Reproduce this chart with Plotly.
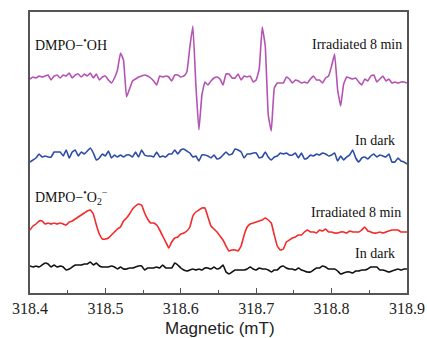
import numpy as np
import plotly.graph_objects as go

# Magnetic field grid (mT), uniform spectrometer sampling
field_start, field_stop, field_step = 318.4, 318.9, 0.004
field = np.round(np.arange(field_start, field_stop + field_step / 2, field_step), 4)

# Intensities (a.u., stacked with offsets as in the figure)
oh_irradiated = [214, 216, 215, 217, 216, 217, 218, 213, 217, 218, 215, 218, 217, 220, 215, 218,
                 219, 216, 219, 217, 220, 215, 219, 213, 216, 217, 213, 210, 215, 223, 240, 233,
                 196, 204, 212, 214, 216, 217, 218, 217, 215, 212, 208, 217, 216, 217, 216, 212,
                 218, 218, 216, 217, 221, 246, 267, 208, 163, 198, 211, 208, 212, 215, 216, 214,
                 208, 219, 219, 215, 215, 219, 213, 217, 216, 217, 211, 213, 224, 266, 247, 178,
                 162, 205, 210, 210, 210, 216, 214, 210, 213, 212, 210, 211, 210, 214, 217, 213,
                 213, 210, 215, 217, 227, 239, 203, 187, 209, 216, 215, 214, 215, 211, 208, 214,
                 212, 217, 218, 211, 214, 217, 212, 214, 210, 211, 210, 211, 211, 210]

oh_dark = [131, 133, 135, 139, 136, 137, 136, 136, 141, 141, 141, 137, 143, 135, 141, 143,
           137, 141, 139, 142, 145, 140, 133, 135, 139, 137, 142, 135, 138, 136, 138, 136,
           138, 138, 136, 141, 136, 143, 138, 137, 137, 136, 141, 136, 137, 136, 139, 139,
           143, 139, 143, 144, 142, 140, 136, 137, 132, 138, 138, 137, 135, 138, 134, 135,
           138, 141, 138, 139, 144, 143, 141, 135, 139, 139, 140, 140, 135, 136, 141, 136,
           133, 136, 137, 140, 139, 140, 138, 138, 140, 135, 140, 134, 135, 138, 137, 139,
           138, 140, 139, 137, 138, 140, 132, 137, 133, 136, 138, 143, 135, 131, 135, 136,
           134, 137, 139, 136, 138, 137, 136, 139, 131, 131, 135, 132, 131, 129]

o2_irradiated = [63, 67, 69, 72, 72, 69, 70, 69, 70, 69, 70, 69, 68, 71, 72, 74,
                 76, 78, 80, 82, 83, 79, 68, 59, 54, 54, 55, 58, 61, 64, 66, 72,
                 75, 79, 84, 87, 89, 88, 80, 74, 70, 70, 68, 63, 57, 51, 45, 51,
                 55, 56, 59, 60, 62, 66, 77, 81, 83, 85, 85, 76, 67, 64, 61, 57,
                 53, 47, 42, 43, 43, 42, 47, 58, 66, 69, 70, 71, 72, 73, 75, 73,
                 70, 58, 47, 43, 44, 51, 53, 55, 56, 58, 58, 61, 63, 61, 61, 60,
                 63, 62, 64, 61, 61, 60, 60, 61, 61, 60, 62, 61, 61, 61, 63, 66,
                 62, 61, 60, 60, 61, 60, 61, 62, 63, 63, 63, 61, 61, 61]

o2_dark = [27, 26, 27, 26, 28, 30, 29, 26, 28, 26, 27, 26, 23, 24, 26, 28,
           28, 28, 29, 29, 31, 28, 30, 27, 26, 26, 26, 27, 26, 24, 26, 24,
           24, 25, 25, 26, 27, 27, 23, 25, 25, 25, 26, 25, 28, 25, 25, 25,
           30, 28, 25, 23, 22, 23, 24, 23, 24, 23, 25, 25, 24, 26, 24, 25,
           28, 21, 19, 21, 23, 23, 23, 23, 24, 26, 24, 23, 25, 24, 24, 23,
           21, 23, 23, 26, 27, 25, 24, 24, 23, 25, 23, 22, 21, 21, 23, 25,
           25, 27, 26, 24, 24, 24, 22, 19, 20, 21, 21, 20, 22, 22, 23, 23,
           24, 26, 26, 26, 23, 23, 22, 21, 22, 23, 24, 23, 24, 24]

x_ticks = [318.4, 318.5, 318.6, 318.7, 318.8, 318.9]
x_tick_labels = ["318.4", "318.5", "318.6", "318.7", "318.8", "318.9"]

series = [
    ("DMPO-OH irradiated", oh_irradiated, "#B453B4"),
    ("DMPO-OH dark", oh_dark, "#2D4CA6"),
    ("DMPO-O2 irradiated", o2_irradiated, "#F42A2A"),
    ("DMPO-O2 dark", o2_dark, "#111111"),
]

fig = go.Figure()
for name, vals, color in series:
    fig.add_trace(go.Scatter(x=field, y=vals, mode="lines", name=name,
                             line=dict(color=color, width=1.6, shape="spline", smoothing=0.3),
                             showlegend=False))

serif = "Liberation Serif, Times New Roman, serif"
sans = "Liberation Sans, Arial, sans-serif"
annots = [
    ("DMPO\u2212<sup>\u2022</sup>OH", 0.008, 0.886, "left"),
    ("Irradiated 8 min", 0.992, 0.883, "right"),
    ("In dark", 0.973, 0.544, "right"),
    ("DMPO\u2212<sup>\u2022</sup>O<sub>2</sub><sup>\u2212</sup>", 0.008, 0.342, "left"),
    ("Irradiated 8 min", 0.989, 0.285, "right"),
    ("In dark", 0.973, 0.142, "right"),
]
for text, ax_, ay_, anchor in annots:
    fig.add_annotation(text=text, x=ax_, y=ay_, xref="paper", yref="paper",
                       xanchor=anchor, yanchor="middle", showarrow=False,
                       font=dict(family=serif, size=14, color="#111111"))

# x-axis title placed below tick labels (partly cropped at the bottom edge, as in the original)
fig.add_annotation(text="Magnetic (mT)", x=0.503, y=-0.125, xref="paper", yref="paper",
                   xanchor="center", yanchor="middle", showarrow=False,
                   font=dict(family=sans, size=17, color="#222222"))

fig.update_layout(
    width=427, height=338,
    margin=dict(l=30, r=20, t=12, b=45, autoexpand=False),
    paper_bgcolor="white", plot_bgcolor="white",
    font=dict(family=serif, color="#222222"),
)
fig.update_xaxes(
    range=[318.4, 318.9], tickvals=x_ticks, ticktext=x_tick_labels,
    ticks="inside", ticklen=5, tickwidth=1.2, tickcolor="#555555",
    minor=dict(dtick=0.05, tick0=318.4, ticks="inside", ticklen=3, tickcolor="#555555", tickwidth=1),
    showline=True, linecolor="#555555", linewidth=1.6, mirror=True,
    showgrid=False, zeroline=False, automargin=False,
    tickfont=dict(family=serif, size=16, color="#222222"),
)
fig.update_yaxes(
    range=[0, 281], showticklabels=False, ticks="",
    showline=True, linecolor="#555555", linewidth=1.6, mirror=True,
    showgrid=False, zeroline=False, automargin=False,
)

fig.write_html("out.html", config={"displayModeBar": False},
               post_script="document.body.style.margin='0';")
